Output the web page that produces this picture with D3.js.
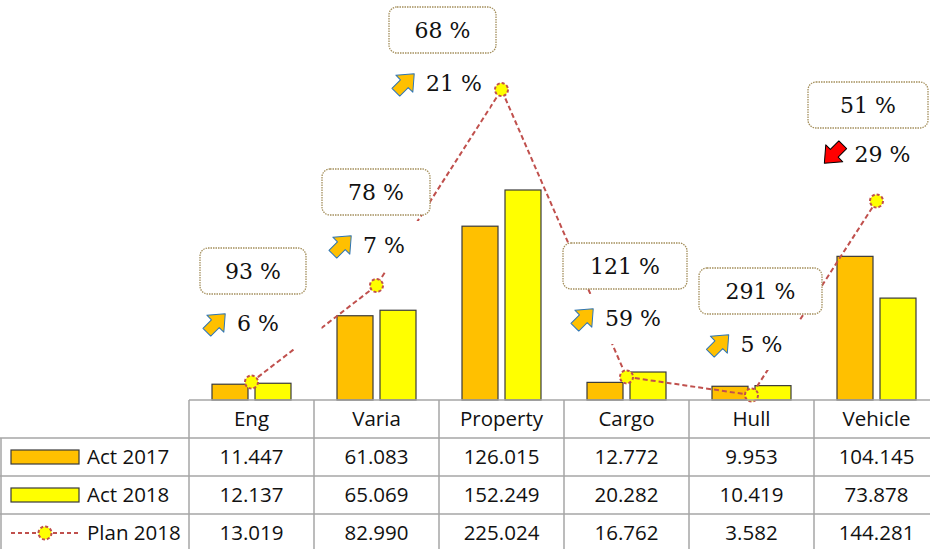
<!DOCTYPE html>
<html>
<head>
<meta charset="utf-8">
<script src="https://cdn.jsdelivr.net/npm/d3@7"></script>
<style>
    body { margin: 0; background: #fff; }
    svg { display: block; }
</style>
</head>
<body>
<svg id="canvas" width="930" height="549"></svg>
<script>
"use strict";

// data
var categories = ['Eng', 'Varia', 'Property', 'Cargo', 'Hull', 'Vehicle'];
var act2017 = [11.447, 61.083, 126.015, 12.772, 9.953, 104.145];
var act2018 = [12.137, 65.069, 152.249, 20.282, 10.419, 73.878];
var plan2018 = [13.019, 82.990, 225.024, 16.762, 3.582, 144.281];
var ratioLabels = ['93 %', '78 %', '68 %', '121 %', '291 %', '51 %'];
var growthLabels = ['6 %', '7 %', '21 %', '59 %', '5 %', '29 %'];
var growthUp = [true, true, true, true, true, false];
var seriesNames = ['Act 2017', 'Act 2018', 'Plan 2018'];

// hand placed label boxes (offset from category centre, px)
var labelLayout = [
    { boxDx: 1.5, boxTop: 248, boxW: 106, growDx: -10, growY: 323, maskW: 160 },
    { boxDx: -0.5, boxTop: 169, boxW: 108, growDx: -9, growY: 245, maskW: 110 },
    { boxDx: -59, boxTop: 7, boxW: 107, growDx: -64, growY: 83, maskW: 104 },
    { boxDx: -1.5, boxTop: 243, boxW: 124, growDx: -10, growY: 318, maskW: 110 },
    { boxDx: 9, boxTop: 268, boxW: 123, growDx: -6.5, growY: 344, maskW: 115 },
    { boxDx: -8.5, boxTop: 82, boxW: 120, growDx: -10.5, growY: 154, maskW: 110 }
];

var COL_2017 = '#FFC000';
var COL_2018 = '#FFFF00';
var COL_PLAN = '#C0504D';
var GRID = '#a6a6a6';
var SANS = '"Open Sans", sans-serif';
var SERIF = '"DejaVu Serif", serif';

var svg = d3.select('#canvas');

var BASE_Y = 400;
var ROW_H = 38;

var x = d3.scaleBand().domain(categories).range([189, 939]);
var xSub = d3.scaleBand().domain([0, 1]).range([0, x.bandwidth()])
    .paddingInner(7 / 43).paddingOuter(0.535);
var y = d3.scaleLinear().domain([0, 290]).range([BASE_Y, 0]);

function cx(i) {
    return x(categories[i]) + x.bandwidth() / 2;
}

// bars
var barSeries = [act2017, act2018];
var barColors = [COL_2017, COL_2018];
barSeries.forEach(function(values, s) {
    svg.append('g').selectAll('rect')
        .data(values)
        .enter().append('rect')
        .attr('x', function(d, i) { return x(categories[i]) + xSub(s); })
        .attr('y', function(d) { return y(d); })
        .attr('width', xSub.bandwidth())
        .attr('height', function(d) { return BASE_Y - y(d); })
        .attr('fill', barColors[s])
        .attr('stroke', '#3a3a3a')
        .attr('stroke-width', 1.2);
});

// plan line
var line = d3.line()
    .x(function(d, i) { return cx(i); })
    .y(function(d) { return y(d); });
svg.append('path')
    .datum(plan2018)
    .attr('d', line)
    .attr('fill', 'none')
    .attr('stroke', COL_PLAN)
    .attr('stroke-width', 2)
    .attr('stroke-dasharray', '5,3');

// block arrow, pointing right, centred on 0,0
var ARROW = 'M-13,-5.5L-1,-5.5L-1,-12L13,0L-1,12L-1,5.5L-13,5.5Z';

// growth labels (white backing hides the line)
var grow = svg.append('g').selectAll('g')
    .data(growthLabels)
    .enter().append('g')
    .attr('transform', function(d, i) {
        return 'translate(' + (cx(i) + labelLayout[i].growDx) + ',' + labelLayout[i].growY + ')';
    });
grow.append('rect')
    .attr('x', function(d, i) { return -labelLayout[i].maskW / 2; })
    .attr('y', -24)
    .attr('width', function(d, i) { return labelLayout[i].maskW; })
    .attr('height', 50)
    .attr('fill', '#fff');
grow.each(function(d, i) {
    var g = d3.select(this);
    var txt = g.append('text')
        .text(d)
        .attr('font-family', SERIF)
        .attr('font-size', '22px')
        .attr('fill', '#111')
        .attr('dy', '0.36em');
    var w = txt.node().getComputedTextLength();
    var start = -(24 + 9 + w) / 2;
    txt.attr('x', start + 33);
    g.append('path')
        .attr('d', ARROW)
        .attr('transform', 'translate(' + (start + 12) + ',0) rotate(' + (growthUp[i] ? -45 : 135) + ')')
        .attr('fill', growthUp[i] ? COL_2017 : '#FF0000')
        .attr('stroke', growthUp[i] ? '#2E75B6' : '#000')
        .attr('stroke-width', 1)
        .attr('stroke-linejoin', 'round');
});

// ratio labels
var ratio = svg.append('g').selectAll('g')
    .data(ratioLabels)
    .enter().append('g')
    .attr('transform', function(d, i) {
        return 'translate(' + (cx(i) + labelLayout[i].boxDx) + ',' + labelLayout[i].boxTop + ')';
    });
ratio.append('rect')
    .attr('x', function(d, i) { return -labelLayout[i].boxW / 2; })
    .attr('y', 0)
    .attr('width', function(d, i) { return labelLayout[i].boxW; })
    .attr('height', 46)
    .attr('rx', 8)
    .attr('fill', '#fff')
    .attr('stroke', '#a48f5c')
    .attr('stroke-width', 1.3)
    .attr('stroke-dasharray', '1.5,1');
ratio.append('text')
    .text(function(d) { return d; })
    .attr('y', 23)
    .attr('dy', '0.36em')
    .attr('text-anchor', 'middle')
    .attr('font-family', SERIF)
    .attr('font-size', '22px')
    .attr('fill', '#111');

// markers
function marker(sel) {
    sel.attr('r', 6.5)
        .attr('fill', COL_2018)
        .attr('stroke', COL_PLAN)
        .attr('stroke-width', 2)
        .attr('stroke-dasharray', '3,2');
}
svg.append('g').selectAll('circle')
    .data(plan2018)
    .enter().append('circle')
    .attr('cx', function(d, i) { return cx(i); })
    .attr('cy', function(d) { return y(d); })
    .call(marker);

// data table
var table = svg.append('g');
var colEdges = categories.map(function(c) { return x(c); });
var gridLine = function(x1, y1, x2, y2) {
    table.append('line')
        .attr('x1', x1).attr('y1', y1).attr('x2', x2).attr('y2', y2)
        .attr('stroke', GRID)
        .attr('stroke-width', 1.5);
};
gridLine(189, BASE_Y, 930, BASE_Y);
[1, 2, 3].forEach(function(r) {
    gridLine(0, BASE_Y + r * ROW_H, 930, BASE_Y + r * ROW_H);
});
gridLine(1, BASE_Y + ROW_H, 1, 549);
colEdges.forEach(function(e) {
    gridLine(e, BASE_Y, e, 549);
});

table.selectAll('text.head')
    .data(categories)
    .enter().append('text')
    .attr('class', 'head')
    .attr('x', function(d, i) { return cx(i); })
    .attr('y', BASE_Y + ROW_H / 2)
    .attr('dy', '0.36em')
    .attr('text-anchor', 'middle')
    .attr('font-family', SANS)
    .attr('font-size', '20.5px')
    .attr('fill', '#111')
    .text(function(d) { return d; });

var fmt = d3.format('.3f');
[act2017, act2018, plan2018].forEach(function(values, r) {
    var rowY = BASE_Y + ROW_H * (r + 1) + ROW_H / 2;
    table.append('g').selectAll('text')
        .data(values)
        .enter().append('text')
        .attr('x', function(d, i) { return cx(i); })
        .attr('y', rowY)
        .attr('dy', '0.36em')
        .attr('text-anchor', 'middle')
        .attr('font-family', SANS)
        .attr('font-size', '20.5px')
        .attr('fill', '#111')
        .text(fmt);

    // legend key
    if (r < 2) {
        table.append('rect')
            .attr('x', 11).attr('y', rowY - 7)
            .attr('width', 68).attr('height', 14)
            .attr('fill', barColors[r])
            .attr('stroke', '#3a3a3a')
            .attr('stroke-width', 1.2);
    } else {
        table.append('line')
            .attr('x1', 11).attr('x2', 79)
            .attr('y1', rowY).attr('y2', rowY)
            .attr('stroke', COL_PLAN)
            .attr('stroke-width', 2)
            .attr('stroke-dasharray', '4,3');
        table.append('circle')
            .attr('cx', 45).attr('cy', rowY)
            .call(marker);
    }
    table.append('text')
        .attr('x', 87)
        .attr('y', rowY)
        .attr('dy', '0.36em')
        .attr('font-family', SANS)
        .attr('font-size', '20.5px')
        .attr('fill', '#111')
        .text(seriesNames[r]);
});
</script>
</body>
</html>
